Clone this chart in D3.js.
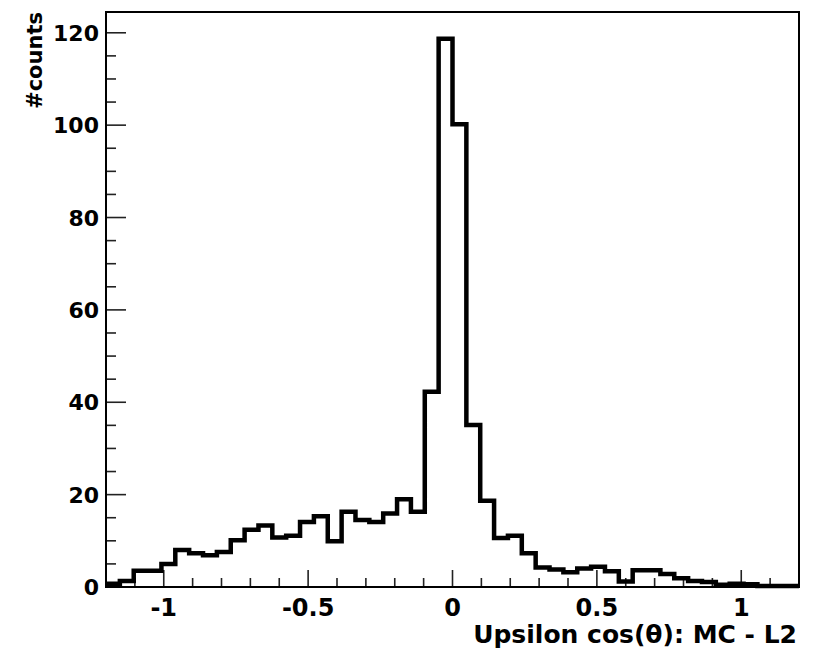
<!DOCTYPE html>
<html>
<head>
<meta charset="utf-8">
<script src="https://cdn.jsdelivr.net/npm/d3@7/dist/d3.min.js"></script>
<style>
	html, body { margin: 0; padding: 0; background: #fff; }
	svg { display: block; }
	text { font-family: "DejaVu Sans", "Liberation Sans", Arial, sans-serif; font-weight: bold; fill: #000; }
</style>
</head>
<body>
<svg id="chart" width="816" height="652"></svg>
<script>
'use strict';

/**
 * Upsilon cos(theta) histogram, MC - L2
 * 50 bins between -1.2 and 1.2
 */

var binLow = -1.2;
var binHigh = 1.2;
var binCounts = [
	0.7, 1.3, 3.5, 3.5, 5.0, 8.0, 7.3, 6.9, 7.6, 10.1,
	12.4, 13.3, 10.7, 11.1, 14.1, 15.3, 9.9, 16.3, 14.5, 14.1,
	15.9, 19.0, 16.3, 42.3, 118.7, 100.2, 35.1, 18.7, 10.6, 11.1,
	7.3, 4.2, 3.8, 3.2, 4.0, 4.4, 3.4, 1.2, 3.6, 3.6,
	2.8, 1.9, 1.3, 1.1, 0.5, 0.7, 0.6, 0.2, 0.2, 0.2
];
var xTickLabels = [-1, -0.5, 0, 0.5, 1];
var yTickLabels = [0, 20, 40, 60, 80, 100, 120];
var yMax = 124.5;
var xTitle = 'Upsilon cos(\u03b8): MC - L2';
var yTitle = '#counts';

var svg = d3.select('#chart');
var frame = { left: 106, right: 799, top: 12, bottom: 587 };

var x = d3.scaleLinear().domain([binLow, binHigh]).range([frame.left, frame.right]);
var y = d3.scaleLinear().domain([0, yMax]).range([frame.bottom, frame.top]);

var binWidth = (binHigh - binLow) / binCounts.length;

// minor ticks
var xMinor = d3.range(-12, 13).map(function (i) { return i / 10; });
var yMinor = d3.range(0, 125, 5);

var ticks = svg.append('g').attr('stroke', '#222').attr('stroke-width', 1.6);

ticks.selectAll('.xminor').data(xMinor).enter().append('line')
	.attr('x1', function (d) { return x(d); })
	.attr('x2', function (d) { return x(d); })
	.attr('y1', frame.bottom)
	.attr('y2', function (d) {
		return xTickLabels.indexOf(d) >= 0 ? frame.bottom - 17 : frame.bottom - 9;
	});

ticks.selectAll('.yminor').data(yMinor).enter().append('line')
	.attr('y1', function (d) { return y(d); })
	.attr('y2', function (d) { return y(d); })
	.attr('x1', frame.left)
	.attr('x2', function (d) {
		return d % 20 === 0 ? frame.left + 20 : frame.left + 10;
	});

// histogram outline
var points = binCounts.map(function (v, i) {
	return [binLow + i * binWidth, v];
});
points.push([binHigh, binCounts[binCounts.length - 1]]);

var line = d3.line()
	.x(function (d) { return x(d[0]); })
	.y(function (d) { return y(d[1]); })
	.curve(d3.curveStepAfter);

svg.append('path')
	.datum(points)
	.attr('d', line)
	.attr('fill', 'none')
	.attr('stroke', '#000')
	.attr('stroke-width', 4.5)
	.attr('stroke-linejoin', 'miter')
	.attr('stroke-linecap', 'butt');

// frame
svg.append('rect')
	.attr('x', frame.left)
	.attr('y', frame.top)
	.attr('width', frame.right - frame.left)
	.attr('height', frame.bottom - frame.top)
	.attr('fill', 'none')
	.attr('stroke', '#000')
	.attr('stroke-width', 2);

// tick labels
svg.selectAll('.xlab').data(xTickLabels).enter().append('text')
	.attr('x', function (d) { return x(d); })
	.attr('y', 616)
	.attr('text-anchor', 'middle')
	.attr('font-size', 24)
	.text(function (d) { return d; });

svg.selectAll('.ylab').data(yTickLabels).enter().append('text')
	.attr('x', 99)
	.attr('y', function (d) { return y(d) + 8; })
	.attr('text-anchor', 'end')
	.attr('font-size', 22)
	.text(function (d) { return d; });

// axis titles
svg.append('text')
	.attr('x', 797)
	.attr('y', 643)
	.attr('text-anchor', 'end')
	.attr('font-size', 25)
	.text(xTitle);

svg.append('text')
	.attr('transform', 'translate(42,12) rotate(-90)')
	.attr('text-anchor', 'end')
	.attr('font-size', 21)
	.text(yTitle);
</script>
</body>
</html>
